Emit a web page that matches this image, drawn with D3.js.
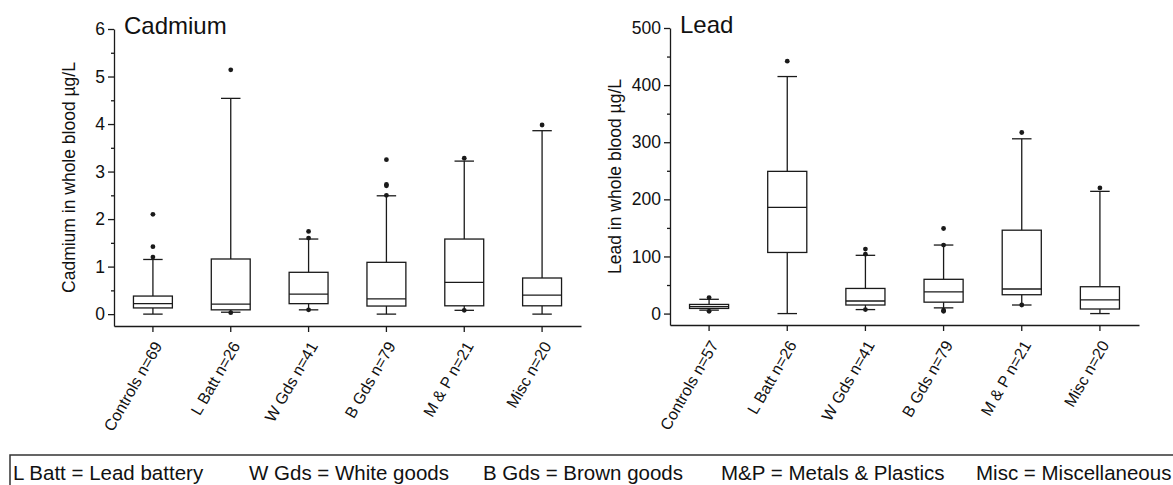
<!DOCTYPE html>
<html>
<head>
<meta charset="utf-8">
<script src="https://cdn.jsdelivr.net/npm/d3@7"></script>
<style>
  body { margin: 0; background: #fff; }
  text { font-family: "Liberation Sans", Arial, sans-serif; fill: #111; }
</style>
</head>
<body>
<svg id="chart" width="1173" height="485"></svg>
<script>
// Cadmium (µg/L)
var cdGroups = ["Controls n=69", "L Batt n=26", "W Gds n=41", "B Gds n=79", "M & P n=21", "Misc n=20"];
var cdLow = [0, 0.04, 0.09, 0, 0.08, 0];
var cdQ1 = [0.13, 0.09, 0.22, 0.17, 0.175, 0.175];
var cdMedian = [0.22, 0.21, 0.42, 0.32, 0.67, 0.40];
var cdQ3 = [0.38, 1.16, 0.88, 1.09, 1.58, 0.76];
var cdHigh = [1.15, 4.54, 1.58, 2.49, 3.22, 3.86];
var cdOutliers = [[1.2, 1.42, 2.1], [0.03, 5.14], [0.09, 1.6, 1.74], [2.5, 2.7, 2.73, 3.25], [0.08, 3.28], [3.98]];
var cdTicks = [0, 1, 2, 3, 4, 5, 6];

// Lead (µg/L)
var pbGroups = ["Controls n=57", "L Batt n=26", "W Gds n=41", "B Gds n=79", "M & P n=21", "Misc n=20"];
var pbLow = [6, 0, 7, 10, 15, 0];
var pbQ1 = [9, 107, 15, 20, 33, 8];
var pbMedian = [12, 186, 22, 38, 43, 24];
var pbQ3 = [16, 249, 44, 60, 146, 47];
var pbHigh = [25, 415, 102, 120, 306, 214];
var pbOutliers = [[4, 28], [442], [7, 104, 113], [4, 6, 120, 149], [15, 317], [220]];
var pbTicks = [0, 100, 200, 300, 400, 500];

var legendItems = ["L Batt = Lead battery", "W Gds = White goods", "B Gds = Brown goods", "M&P = Metals & Plastics", "Misc = Miscellaneous"];
var legendX = [13, 249, 483, 721, 976];

var svg = d3.select("#chart");
var ink = "#1a1a1a";

function drawPanel(opt) {
  var g = svg.append("g");
  var x = d3.scaleBand().domain(opt.groups).range([opt.x0, opt.x1]).padding(0);
  var y = d3.scaleLinear().domain(opt.domain).range([opt.yBottom, opt.yTop]);
  var bw = x.bandwidth() * 0.5;

  // y axis, major + minor ticks
  var ya = g.append("g").attr("transform", "translate(" + opt.x0 + ",0)")
    .call(d3.axisLeft(y).tickValues(opt.ticks).tickFormat(d3.format("d"))
      .tickSize(6).tickSizeOuter(0).tickPadding(3));
  ya.selectAll("text").style("font-size", "17.5px");
  var minor = [];
  for (var i = 0; i < opt.ticks.length - 1; i++) minor.push((opt.ticks[i] + opt.ticks[i + 1]) / 2);
  var ym = g.append("g").attr("transform", "translate(" + opt.x0 + ",0)")
    .call(d3.axisLeft(y).tickValues(minor).tickSize(3).tickFormat(""));
  ym.select(".domain").remove();

  // x axis
  var xa = g.append("g").attr("transform", "translate(0," + opt.yBottom + ")")
    .call(d3.axisBottom(x).tickSize(6).tickSizeOuter(0));
  xa.selectAll("text")
    .style("font-size", "16px")
    .attr("x", 0).attr("y", 0).attr("dy", "0.35em")
    .attr("text-anchor", "end")
    .attr("transform", "translate(5,17) rotate(-60)");

  g.selectAll(".domain, .tick line").attr("stroke", ink).attr("stroke-width", 1.3);

  // boxes
  var box = g.selectAll(".box").data(opt.groups).enter().append("g")
    .attr("class", "box")
    .attr("transform", function (d) { return "translate(" + (x(d) + x.bandwidth() / 2) + ",0)"; });
  box.each(function (d, i) {
    var b = d3.select(this);
    b.append("line").attr("x1", 0).attr("x2", 0).attr("y1", y(opt.low[i])).attr("y2", y(opt.q1[i]));
    b.append("line").attr("x1", 0).attr("x2", 0).attr("y1", y(opt.q3[i])).attr("y2", y(opt.high[i]));
    b.append("line").attr("x1", -bw / 4).attr("x2", bw / 4).attr("y1", y(opt.low[i])).attr("y2", y(opt.low[i]));
    b.append("line").attr("x1", -bw / 4).attr("x2", bw / 4).attr("y1", y(opt.high[i])).attr("y2", y(opt.high[i]));
    b.append("rect").attr("x", -bw / 2).attr("width", bw)
      .attr("y", y(opt.q3[i])).attr("height", y(opt.q1[i]) - y(opt.q3[i]))
      .attr("fill", "#fff");
    b.append("line").attr("x1", -bw / 2).attr("x2", bw / 2).attr("y1", y(opt.median[i])).attr("y2", y(opt.median[i]));
    b.selectAll("circle").data(opt.outliers[i]).enter().append("circle")
      .attr("cx", 0).attr("cy", function (v) { return y(v); }).attr("r", 2.4)
      .attr("fill", ink).attr("stroke", "none");
  });
  box.selectAll("line, rect").attr("stroke", ink).attr("stroke-width", 1.3);

  // title and y label
  g.append("text").attr("x", opt.x0 + 10).attr("y", opt.yTop + 5)
    .style("font-size", "24px").text(opt.title);
  g.append("text")
    .attr("transform", "translate(" + opt.labelX + "," + ((opt.yTop + opt.yBottom) / 2) + ") rotate(-90)")
    .attr("text-anchor", "middle")
    .style("font-size", "17.5px")
    .text(opt.ylabel);
}

drawPanel({
  groups: cdGroups, low: cdLow, q1: cdQ1, median: cdMedian, q3: cdQ3, high: cdHigh, outliers: cdOutliers,
  ticks: cdTicks, domain: [-0.25, 6], x0: 114, x1: 581, yTop: 29, yBottom: 326,
  title: "Cadmium", ylabel: "Cadmium in whole blood µg/L", labelX: 75
});

drawPanel({
  groups: pbGroups, low: pbLow, q1: pbQ1, median: pbMedian, q3: pbQ3, high: pbHigh, outliers: pbOutliers,
  ticks: pbTicks, domain: [-20, 500], x0: 670, x1: 1139, yTop: 28, yBottom: 325,
  title: "Lead", ylabel: "Lead in whole blood µg/L", labelX: 621
});

// legend box (runs off the page at the right and bottom)
var leg = svg.append("g");
leg.append("rect").attr("x", 10).attr("y", 455).attr("width", 1200).attr("height", 60)
  .attr("fill", "none").attr("stroke", "#333").attr("stroke-width", 1.5);
leg.selectAll("text").data(legendItems).enter().append("text")
  .attr("x", function (d, i) { return legendX[i]; })
  .attr("y", 480)
  .style("font-size", "20.5px")
  .text(function (d) { return d; });
</script>
</body>
</html>
